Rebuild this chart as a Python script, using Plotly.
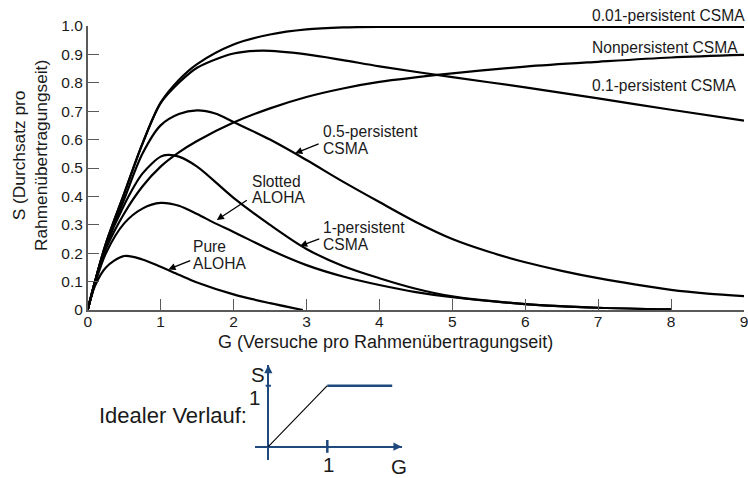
import plotly.graph_objects as go

# ---------------- data ----------------
G_p001 = [0, 0.1, 0.25, 0.5, 0.75, 1.0, 1.25, 1.5, 2.0, 2.5, 3.0, 3.5, 4.0, 5.0, 6.0, 7.0, 8.0, 9.0]
S_p001 = [0, 0.1, 0.235, 0.41, 0.585, 0.73, 0.81, 0.866, 0.935, 0.97, 0.988, 0.995, 0.997, 0.997, 0.997, 0.997, 0.997, 0.997]

G_p01 = [0, 0.1, 0.25, 0.5, 0.75, 1.0, 1.25, 1.5, 2.0, 2.4, 3.0, 3.5, 4.0, 5.0, 6.0, 7.0, 8.0, 9.0]
S_p01 = [0, 0.1, 0.235, 0.41, 0.585, 0.728, 0.8, 0.853, 0.903, 0.913, 0.9, 0.88, 0.858, 0.82, 0.784, 0.745, 0.705, 0.667]

G_nonp = [0, 0.1, 0.25, 0.5, 0.75, 1.0, 1.25, 1.5, 2.0, 2.5, 3.0, 3.5, 4.0, 5.0, 6.0, 7.0, 8.0, 9.0]
S_nonp = [0, 0.1, 0.215, 0.34, 0.435, 0.505, 0.555, 0.595, 0.66, 0.71, 0.75, 0.78, 0.803, 0.833, 0.857, 0.874, 0.889, 0.898]

G_p05 = [0, 0.1, 0.25, 0.5, 0.75, 1.0, 1.25, 1.5, 1.75, 2.0, 2.5, 3.0, 3.5, 4.0, 4.5, 5.0, 5.5, 6.0, 6.5, 7.0, 7.5, 8.0, 8.5, 9.0]
S_p05 = [0, 0.1, 0.23, 0.39, 0.55, 0.65, 0.69, 0.703, 0.692, 0.662, 0.6, 0.528, 0.452, 0.38, 0.31, 0.25, 0.205, 0.168, 0.138, 0.112, 0.09, 0.071, 0.058, 0.049]

G_p1 = [0, 0.1, 0.25, 0.5, 0.75, 1.0, 1.1, 1.25, 1.5, 2.0, 2.5, 3.0, 3.5, 4.0, 4.5, 5.0, 6.0, 7.0, 8.0]
S_p1 = [0, 0.1, 0.225, 0.37, 0.48, 0.54, 0.546, 0.54, 0.505, 0.395, 0.3, 0.215, 0.155, 0.112, 0.075, 0.048, 0.021, 0.008, 0.002]

G_slot = [0, 0.1, 0.25, 0.5, 0.75, 1.0, 1.25, 1.5, 1.75, 2.0, 2.5, 3.0, 3.5, 4.0, 4.5, 5.0, 6.0, 7.0, 8.0]
S_slot = [0, 0.092, 0.2, 0.305, 0.357, 0.377, 0.367, 0.338, 0.305, 0.275, 0.212, 0.158, 0.118, 0.088, 0.063, 0.045, 0.021, 0.008, 0.002]

G_pure = [0, 0.1, 0.25, 0.5, 0.75, 1.0, 1.25, 1.5, 2.0, 2.5, 2.95]
S_pure = [0, 0.085, 0.15, 0.19, 0.178, 0.152, 0.124, 0.097, 0.055, 0.024, 0.0]

x_ticks = [0, 1, 2, 3, 4, 5, 6, 7, 8, 9]
y_ticks = [0, 0.1, 0.2, 0.3, 0.4, 0.5, 0.6, 0.7, 0.8, 0.9, 1.0]
y_ticktext = ["0", "0.1", "0.2", "0.3", "0.4", "0.5", "0.6", "0.7", "0.8", "0.9", "1.0"]

x_title = "G (Versuche pro Rahmenübertragungseit)"
y_title = "S (Durchsatz pro<br>Rahmenübertragungseit)"

# ideal curve (inset)
G_ideal_rise = [0, 1]
S_ideal_rise = [0, 1]
G_ideal_flat = [1, 2.1]
S_ideal_flat = [1, 1]

# ---------------- figure ----------------
FONT = "Arial, 'Liberation Sans', Helvetica, sans-serif"
TXT = "#1a1a1a"
AX = "#5a5a5a"
NAVY = "#1f497d"

W, H = 748, 478
def px_x(p):
    return p / W
def px_y(p):
    return 1 - p / H

fig = go.Figure()

curves = [
    (G_p001, S_p001), (G_p01, S_p01), (G_nonp, S_nonp), (G_p05, S_p05),
    (G_p1, S_p1), (G_slot, S_slot), (G_pure, S_pure),
]
for g, s in curves:
    fig.add_trace(go.Scatter(x=g, y=s, mode="lines",
                             line=dict(color="black", width=2.2, shape="spline", smoothing=0.9),
                             hoverinfo="skip", showlegend=False))

# inset traces
fig.add_trace(go.Scatter(x=G_ideal_rise, y=S_ideal_rise, mode="lines", xaxis="x2", yaxis="y2",
                         line=dict(color="black", width=1.1), showlegend=False, hoverinfo="skip"))
fig.add_trace(go.Scatter(x=G_ideal_flat, y=S_ideal_flat, mode="lines", xaxis="x2", yaxis="y2",
                         line=dict(color=NAVY, width=2.5), showlegend=False, hoverinfo="skip"))
# inset tick marks
fig.add_trace(go.Scatter(x=[1, 1], y=[-0.1, 0.11], mode="lines", xaxis="x2", yaxis="y2",
                         line=dict(color=NAVY, width=2.5), showlegend=False, hoverinfo="skip"))
fig.add_trace(go.Scatter(x=[-0.045, 0.045], y=[1, 1], mode="lines", xaxis="x2", yaxis="y2",
                         line=dict(color=NAVY, width=2), showlegend=False, hoverinfo="skip"))

annotations = []
lab_font = dict(family=FONT, size=15.6, color=TXT)

# in-plot labels (left aligned), data coords
labels = [
    ("0.5-persistent", 3.197, 0.630), ("CSMA", 3.197, 0.567),
    ("1-persistent", 3.197, 0.290), ("CSMA", 3.197, 0.232),
    ("Slotted", 2.223, 0.452), ("ALOHA", 2.223, 0.395),
    ("Pure", 1.413, 0.223), ("ALOHA", 1.413, 0.162),
]
for t, x, y in labels:
    annotations.append(dict(text=t, x=x, y=y, xref="x", yref="y", xanchor="left", yanchor="middle",
                            showarrow=False, font=lab_font))

# right-hand labels (pixel positions -> paper)
right_labels = [
    ("0.01-persistent CSMA", 589.5, 15.5),
    ("Nonpersistent CSMA", 589.5, 47.5),
    ("0.1-persistent CSMA", 589.5, 86),
]
for t, x, y in right_labels:
    annotations.append(dict(text=t, x=px_x(x), y=px_y(y), xref="paper", yref="paper",
                            xanchor="left", yanchor="middle", showarrow=False, font=lab_font))

# arrows: (head_x, head_y, tail_x, tail_y)
arrows = [
    (2.845, 0.552, 3.187, 0.587),
    (2.912, 0.2254, 3.196, 0.2525),
    (1.77, 0.317, 2.203, 0.39),
    (1.106, 0.143, 1.427, 0.176),
]
for hx, hy, tx, ty in arrows:
    annotations.append(dict(text="", x=hx, y=hy, ax=tx, ay=ty, xref="x", yref="y", axref="x", ayref="y",
                            showarrow=True, arrowhead=2, arrowsize=1.1, arrowwidth=1.3, arrowcolor="black"))

# axis titles
annotations.append(dict(text=x_title, x=px_x(386), y=px_y(341.5), xref="paper", yref="paper",
                        xanchor="center", yanchor="middle", showarrow=False,
                        font=dict(family=FONT, size=18, color=TXT)))
annotations.append(dict(text=y_title, x=px_x(30), y=px_y(156), xref="paper", yref="paper",
                        xanchor="center", yanchor="middle", showarrow=False, textangle=-90,
                        font=dict(family=FONT, size=17.3, color=TXT)))

# inset texts
inset_font = dict(family=FONT, size=20.5, color=TXT)
annotations.append(dict(text="Idealer Verlauf:", x=px_x(97), y=px_y(415), xref="paper", yref="paper",
                        xanchor="left", yanchor="middle", showarrow=False,
                        font=dict(family=FONT, size=22, color=TXT)))
for t, x, y in [("S", 258.3, 374.5), ("1", 255, 397), ("1", 328, 464.5), ("G", 399, 466.5)]:
    annotations.append(dict(text=t, x=px_x(x), y=px_y(y), xref="paper", yref="paper",
                            xanchor="center", yanchor="middle", showarrow=False, font=inset_font))
# inset arrowheads
annotations.append(dict(text="", x=0, y=1.339, ax=0, ay=1.15, xref="x2", yref="y2", axref="x2", ayref="y2",
                        showarrow=True, arrowhead=2, arrowsize=1.1, arrowwidth=1.5, arrowcolor=NAVY))
annotations.append(dict(text="", x=2.261, y=0, ax=2.05, ay=0, xref="x2", yref="y2", axref="x2", ayref="y2",
                        showarrow=True, arrowhead=2, arrowsize=1.1, arrowwidth=1.5, arrowcolor=NAVY))

fig.update_layout(
    template="none",
    width=W, height=H,
    margin=dict(l=0, r=0, t=0, b=0, autoexpand=False),
    paper_bgcolor="white", plot_bgcolor="white",
    showlegend=False,
    font=dict(family=FONT, size=15.5, color=TXT),
    xaxis=dict(domain=[px_x(87.7), px_x(744)], range=[0, 9], automargin=False,
               tickvals=x_ticks, ticktext=[str(v) for v in x_ticks], ticklabeloverflow="allow",
               ticklabelstandoff=-3,
               ticks="inside", ticklen=11, tickwidth=1.2, tickcolor=AX,
               showline=True, linecolor=AX, linewidth=1.5,
               showgrid=False, zeroline=False, fixedrange=True,
               tickfont=dict(family=FONT, size=15.5, color=TXT)),
    yaxis=dict(domain=[px_y(310), px_y(26)], range=[0, 1.0], automargin=False,
               tickvals=y_ticks, ticktext=y_ticktext, ticklabeloverflow="allow",
               ticks="inside", ticklen=12, tickwidth=1.2, tickcolor=AX,
               showline=True, linecolor=AX, linewidth=1.5,
               showgrid=False, zeroline=False, fixedrange=True,
               tickfont=dict(family=FONT, size=15.5, color=TXT)),
    xaxis2=dict(domain=[px_x(255), px_x(401.7)], range=[-0.2254, 2.261], anchor="y2", automargin=False,
                showgrid=False, showticklabels=False, showline=False, ticks="",
                zeroline=True, zerolinecolor=NAVY, zerolinewidth=1.5, fixedrange=True),
    yaxis2=dict(domain=[px_y(460), px_y(365)], range=[-0.218, 1.339], anchor="x2", automargin=False,
                showgrid=False, showticklabels=False, showline=False, ticks="",
                zeroline=True, zerolinecolor=NAVY, zerolinewidth=1.5, fixedrange=True),
    annotations=annotations,
)

fig.write_html("out.html", config={"displayModeBar": False},
               post_script="document.body.style.margin='0';document.body.style.padding='0';")
